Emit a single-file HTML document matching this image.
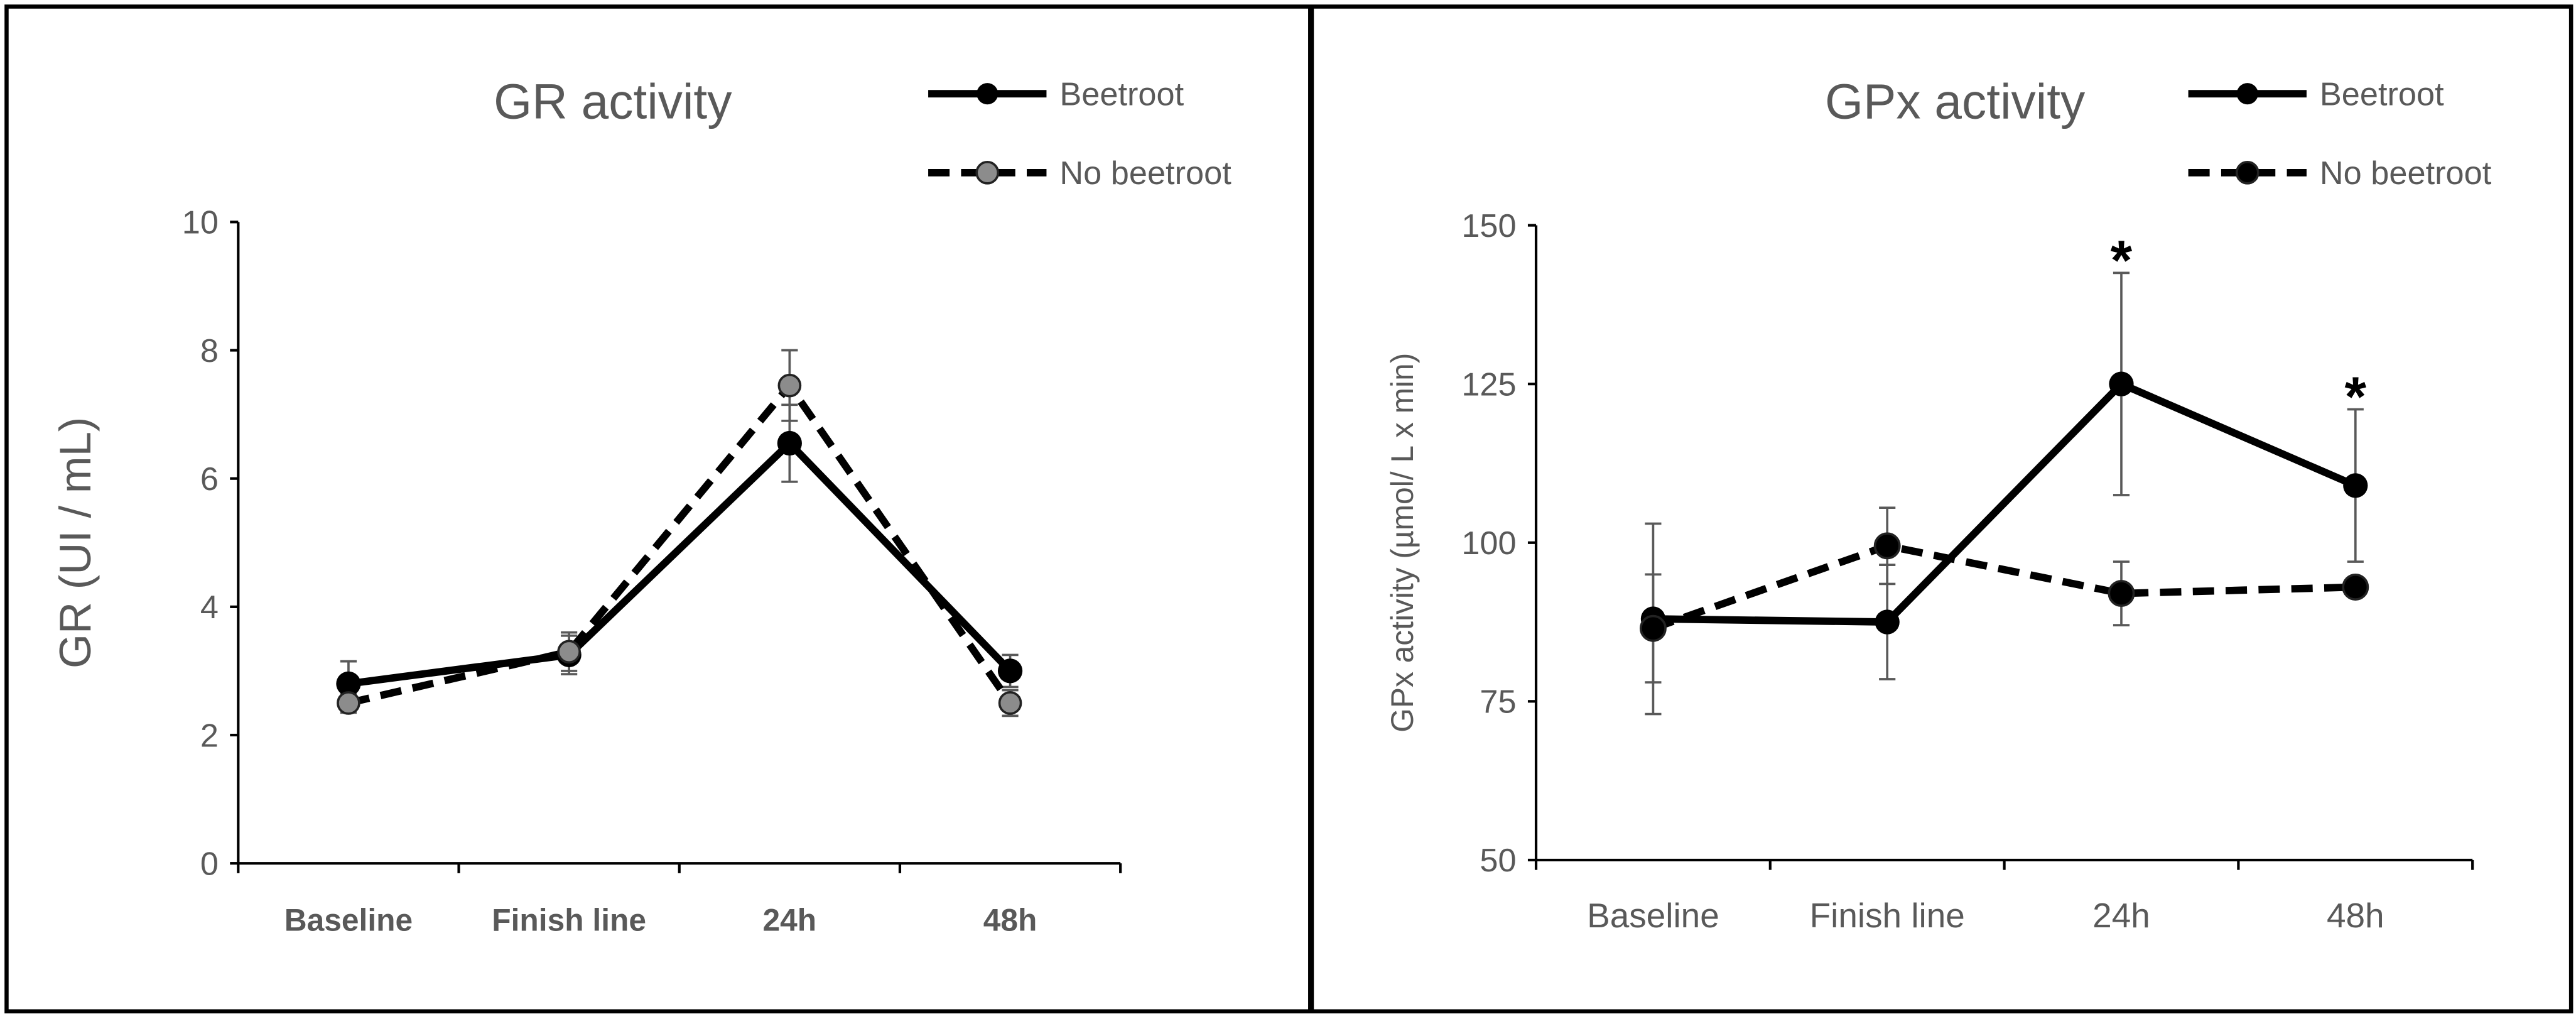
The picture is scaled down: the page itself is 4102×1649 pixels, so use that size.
<!DOCTYPE html>
<html><head><meta charset="utf-8">
<style>
html,body{margin:0;padding:0;background:#fff;}
svg{display:block;}
text{font-family:"Liberation Sans",sans-serif;fill:#595959;}
</style></head>
<body>
<svg id="fig" width="4102" height="1649" viewBox="0 0 1568 630" preserveAspectRatio="none" xmlns="http://www.w3.org/2000/svg">
<rect x="0" y="0" width="1568" height="630" fill="#fff"/>
<rect x="4" y="4" width="1561" height="611" fill="none" stroke="#000" stroke-width="2.5"/>
<line x1="798" y1="4" x2="798" y2="615" stroke="#000" stroke-width="3.5"/>
<g id="gL"></g>
<g id="gR"></g>
</svg>
<script>
const categories = ["Baseline","Finish line","24h","48h"];
// GR chart
const grTicks = [0,2,4,6,8,10];
const grBeet = [2.8,3.25,6.55,3.0];
const grBeetErr = [0.35,0.3,0.6,0.25];
const grNo = [2.5,3.3,7.45,2.5];
const grNoErr = [0.15,0.3,0.55,0.2];
// GPx chart
const gpxTicks = [50,75,100,125,150];
const gpxBeet = [88,87.5,125,109];
const gpxBeetErr = [15,9,17.5,12];
const gpxNo = [86.5,99.5,92,93];
const gpxNoErr = [8.5,6,5,1];
const gpxStars = [false,false,true,true];

const NS="http://www.w3.org/2000/svg";
function mk(parent,tag,attrs,text){const e=document.createElementNS(NS,tag);for(const k in attrs)e.setAttribute(k,attrs[k]);if(text!==undefined)e.textContent=text;parent.appendChild(e);return e;}

function drawChart(g,cfg){
  const x0=cfg.x0,x1=cfg.x1,yTop=cfg.yTop,yBot=cfg.yBot,min=cfg.min,max=cfg.max;
  const n=categories.length,cw=(x1-x0)/n;
  const xs=i=>x0+cw*(i+0.5);
  const ys=v=>yBot-(v-min)/(max-min)*(yBot-yTop);
  let a=mk(g,'line',{x1:x0,y1:yTop,x2:x0,y2:yBot,stroke:'#000','stroke-width':1.6});
  
  a=mk(g,'line',{x1:x0,y1:yBot,x2:x1,y2:yBot,stroke:'#000','stroke-width':1.6});
  
  cfg.ticks.forEach(t=>{
    mk(g,'line',{x1:x0-5,y1:ys(t),x2:x0,y2:ys(t),stroke:'#000','stroke-width':1.6});
    const tl=mk(g,'text',{x:x0-12,y:ys(t)+7,'text-anchor':'end','font-size':20},String(t));
    
    
  });
  for(let i=0;i<=n;i++) mk(g,'line',{x1:x0+cw*i,y1:yBot,x2:x0+cw*i,y2:yBot+6,stroke:'#000','stroke-width':1.6});
  categories.forEach((c,i)=>{
    const cl=mk(g,'text',{x:xs(i),y:yBot+41,'text-anchor':'middle','font-size':cfg.catSize,'font-weight':cfg.catBold?'bold':'normal'},c);
    
    
  });
  function err(vals,errs,name){
    vals.forEach((v,i)=>{
      const eg=mk(g,'g',{stroke:'#595959','stroke-width':1.4});
      
      
      const x=xs(i),t=ys(v+errs[i]),b=ys(v-errs[i]);
      mk(eg,'line',{x1:x,y1:t,x2:x,y2:b});
      mk(eg,'line',{x1:x-5,y1:t,x2:x+5,y2:t});
      mk(eg,'line',{x1:x-5,y1:b,x2:x+5,y2:b});
    });
  }
  err(cfg.beet,cfg.beetErr,'error-bar-beetroot');
  err(cfg.no,cfg.noErr,'error-bar-no-beetroot');
  const ptsNo=cfg.no.map((v,i)=>xs(i)+','+ys(v)).join(' ');
  const lNo=mk(g,'polyline',{points:ptsNo,fill:'none',stroke:'#000','stroke-width':4.5,'stroke-dasharray':'13,7'});
  
  
  const ptsB=cfg.beet.map((v,i)=>xs(i)+','+ys(v)).join(' ');
  const lB=mk(g,'polyline',{points:ptsB,fill:'none',stroke:'#000','stroke-width':4.5});
  
  
  cfg.beet.forEach((v,i)=>{
    const c=mk(g,'circle',{cx:xs(i),cy:ys(v),r:7.5,fill:'#000'});
    
    
  });
  cfg.no.forEach((v,i)=>{
    const c=mk(g,'circle',{cx:xs(i),cy:ys(v),r:cfg.noFill==='#000'?7.5:6.5,fill:cfg.noFill,stroke:'#222','stroke-width':1.4});
    
    
  });
  if(cfg.stars){
    cfg.stars.forEach((s,i)=>{
      if(!s)return;
      const st=mk(g,'text',{x:xs(i),y:ys(cfg.beet[i]+cfg.beetErr[i])+4,'text-anchor':'middle','font-size':34,'font-weight':'bold',style:'fill:#000'},'*');
      
      
    });
  }
  const ti=mk(g,'text',{x:cfg.titleX,y:72,'text-anchor':'middle','font-size':30},cfg.title);
  
  
  const yl=mk(g,'text',{x:0,y:0,'text-anchor':'middle','font-size':cfg.ylSize,transform:`translate(${cfg.ylX},${(yTop+yBot)/2}) rotate(-90)`},cfg.ylabel);
  
  
  const lx=cfg.legX;
  const le1=mk(g,'g',{});
  
  
  mk(le1,'line',{x1:lx,y1:57,x2:lx+72,y2:57,stroke:'#000','stroke-width':4.5});
  mk(le1,'circle',{cx:lx+36,cy:57,r:6.5,fill:'#000'});
  mk(le1,'text',{x:lx+80,y:64,'font-size':20},'Beetroot');
  const le2=mk(g,'g',{});
  
  
  mk(le2,'line',{x1:lx,y1:105,x2:lx+72,y2:105,stroke:'#000','stroke-width':4.5,'stroke-dasharray':'13,7'});
  mk(le2,'circle',{cx:lx+36,cy:105,r:6.5,fill:cfg.noFill,stroke:'#222','stroke-width':1.4});
  mk(le2,'text',{x:lx+80,y:112,'font-size':20},'No beetroot');
}

drawChart(document.getElementById('gL'),{x0:145,x1:682,yTop:135,yBot:525,min:0,max:10,ticks:grTicks,
  beet:grBeet,beetErr:grBeetErr,no:grNo,noErr:grNoErr,noFill:'#8c8c8c',catSize:19,catBold:true,
  title:'GR activity',titleX:373,ylabel:'GR (UI / mL)',ylX:55,ylSize:27,legX:565});
drawChart(document.getElementById('gR'),{x0:935,x1:1505,yTop:137,yBot:523,min:50,max:150,ticks:gpxTicks,
  beet:gpxBeet,beetErr:gpxBeetErr,no:gpxNo,noErr:gpxNoErr,noFill:'#000',catSize:21,catBold:false,stars:gpxStars,
  title:'GPx activity',titleX:1190,ylabel:'GPx activity (\u00b5mol/ L x min)',ylX:860,ylSize:19,legX:1332});
</script>
</body></html>
